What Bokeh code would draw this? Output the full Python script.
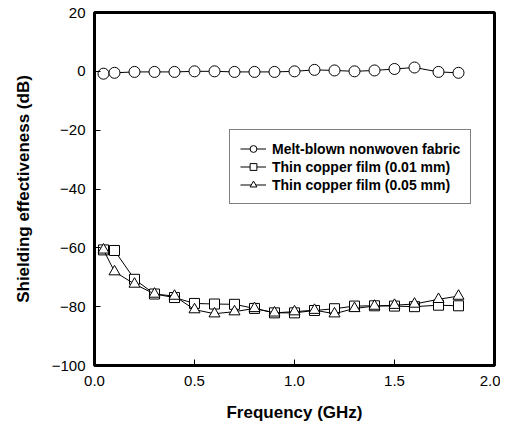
from bokeh.plotting import figure
from bokeh.models import Range1d, FixedTicker, Legend, LegendItem, CustomJSTickFormatter
from bokeh.embed import file_html
from bokeh.resources import INLINE

freq = [0.045, 0.1, 0.2, 0.3, 0.4, 0.5, 0.6, 0.7, 0.8, 0.9, 1.0, 1.1, 1.2, 1.3, 1.4, 1.5, 1.6, 1.72, 1.82]
meltblown = [-0.8, -0.5, -0.2, -0.2, -0.2, 0.0, 0.0, -0.2, -0.2, -0.2, 0.0, 0.5, 0.3, 0.0, 0.3, 0.8, 1.3, -0.2, -0.5]
copper_001 = [-60.7, -60.9, -70.7, -75.7, -76.9, -78.9, -79.1, -79.2, -80.6, -82.1, -82.1, -81.3, -80.7, -79.8, -79.7, -79.8, -80.0, -79.5, -79.7]
copper_005 = [-60.7, -68.1, -72.3, -75.7, -76.4, -81.0, -82.4, -81.7, -80.6, -82.1, -81.7, -81.2, -82.4, -80.6, -79.8, -79.5, -79.1, -77.5, -76.4]

x_ticks = [0.0, 0.5, 1.0, 1.5, 2.0]
y_ticks = [-100, -80, -60, -40, -20, 0, 20]
labels = ["Melt-blown nonwoven fabric", "Thin copper film (0.01 mm)", "Thin copper film (0.05 mm)"]

FONT = "Liberation Sans"

p = figure(width=500, height=426, output_backend="svg", toolbar_location=None,
           x_range=Range1d(0, 2.0), y_range=Range1d(-100, 20),
           min_border_left=94, min_border_right=6, min_border_top=12, min_border_bottom=61,
           x_axis_label="Frequency (GHz)", y_axis_label="Shielding effectiveness (dB)")

p.grid.visible = False
p.outline_line_color = "black"
p.outline_line_width = 3
p.background_fill_color = "white"
p.border_fill_color = "white"

for ax in p.xaxis + p.yaxis:
    ax.axis_line_color = None
    ax.major_tick_in = 6
    ax.major_tick_out = 0
    ax.minor_tick_line_color = None
    ax.major_tick_line_color = "black"
    ax.major_tick_line_width = 1
    ax.major_label_text_font = FONT
    ax.major_label_text_font_size = "15px"
    ax.major_label_text_color = "black"
    ax.axis_label_text_font = FONT
    ax.axis_label_text_font_size = "17px"
    ax.axis_label_text_font_style = "bold"
    ax.axis_label_text_color = "black"

p.xaxis.ticker = FixedTicker(ticks=x_ticks)
p.yaxis.ticker = FixedTicker(ticks=y_ticks)
p.xaxis.formatter = CustomJSTickFormatter(code="return tick.toFixed(1);")
p.xaxis.major_label_standoff = 10
p.yaxis.major_label_standoff = 9
p.xaxis.axis_label_standoff = 14
p.yaxis.axis_label_standoff = 16

l1 = p.line(freq, meltblown, line_color="black", line_width=1)
m1 = p.scatter(freq, meltblown, marker="circle", size=11, fill_color="white", line_color="black", line_width=1)
l2 = p.line(freq, copper_001, line_color="black", line_width=1)
m2 = p.scatter(freq, copper_001, marker="square", size=10, fill_color="white", line_color="black", line_width=1)
l3 = p.line(freq, copper_005, line_color="black", line_width=1)
m3 = p.scatter(freq, copper_005, marker="triangle", size=11, fill_color="white", line_color="black", line_width=1)

legend = Legend(items=[LegendItem(label=labels[0], renderers=[l1, m1]),
                       LegendItem(label=labels[1], renderers=[l2, m2]),
                       LegendItem(label=labels[2], renderers=[l3, m3])],
                location=(135, 161))
legend.border_line_color = "black"
legend.border_line_width = 1
legend.label_text_font = FONT
legend.label_text_font_size = "14px"
legend.label_text_font_style = "bold"
legend.label_text_color = "black"
legend.glyph_width = 26
legend.glyph_height = 17
legend.label_height = 17
legend.spacing = 1
legend.padding = 10
legend.margin = 0
legend.label_standoff = 6
p.add_layout(legend, "center")

open("out.html", "w").write(file_html(p, INLINE))
